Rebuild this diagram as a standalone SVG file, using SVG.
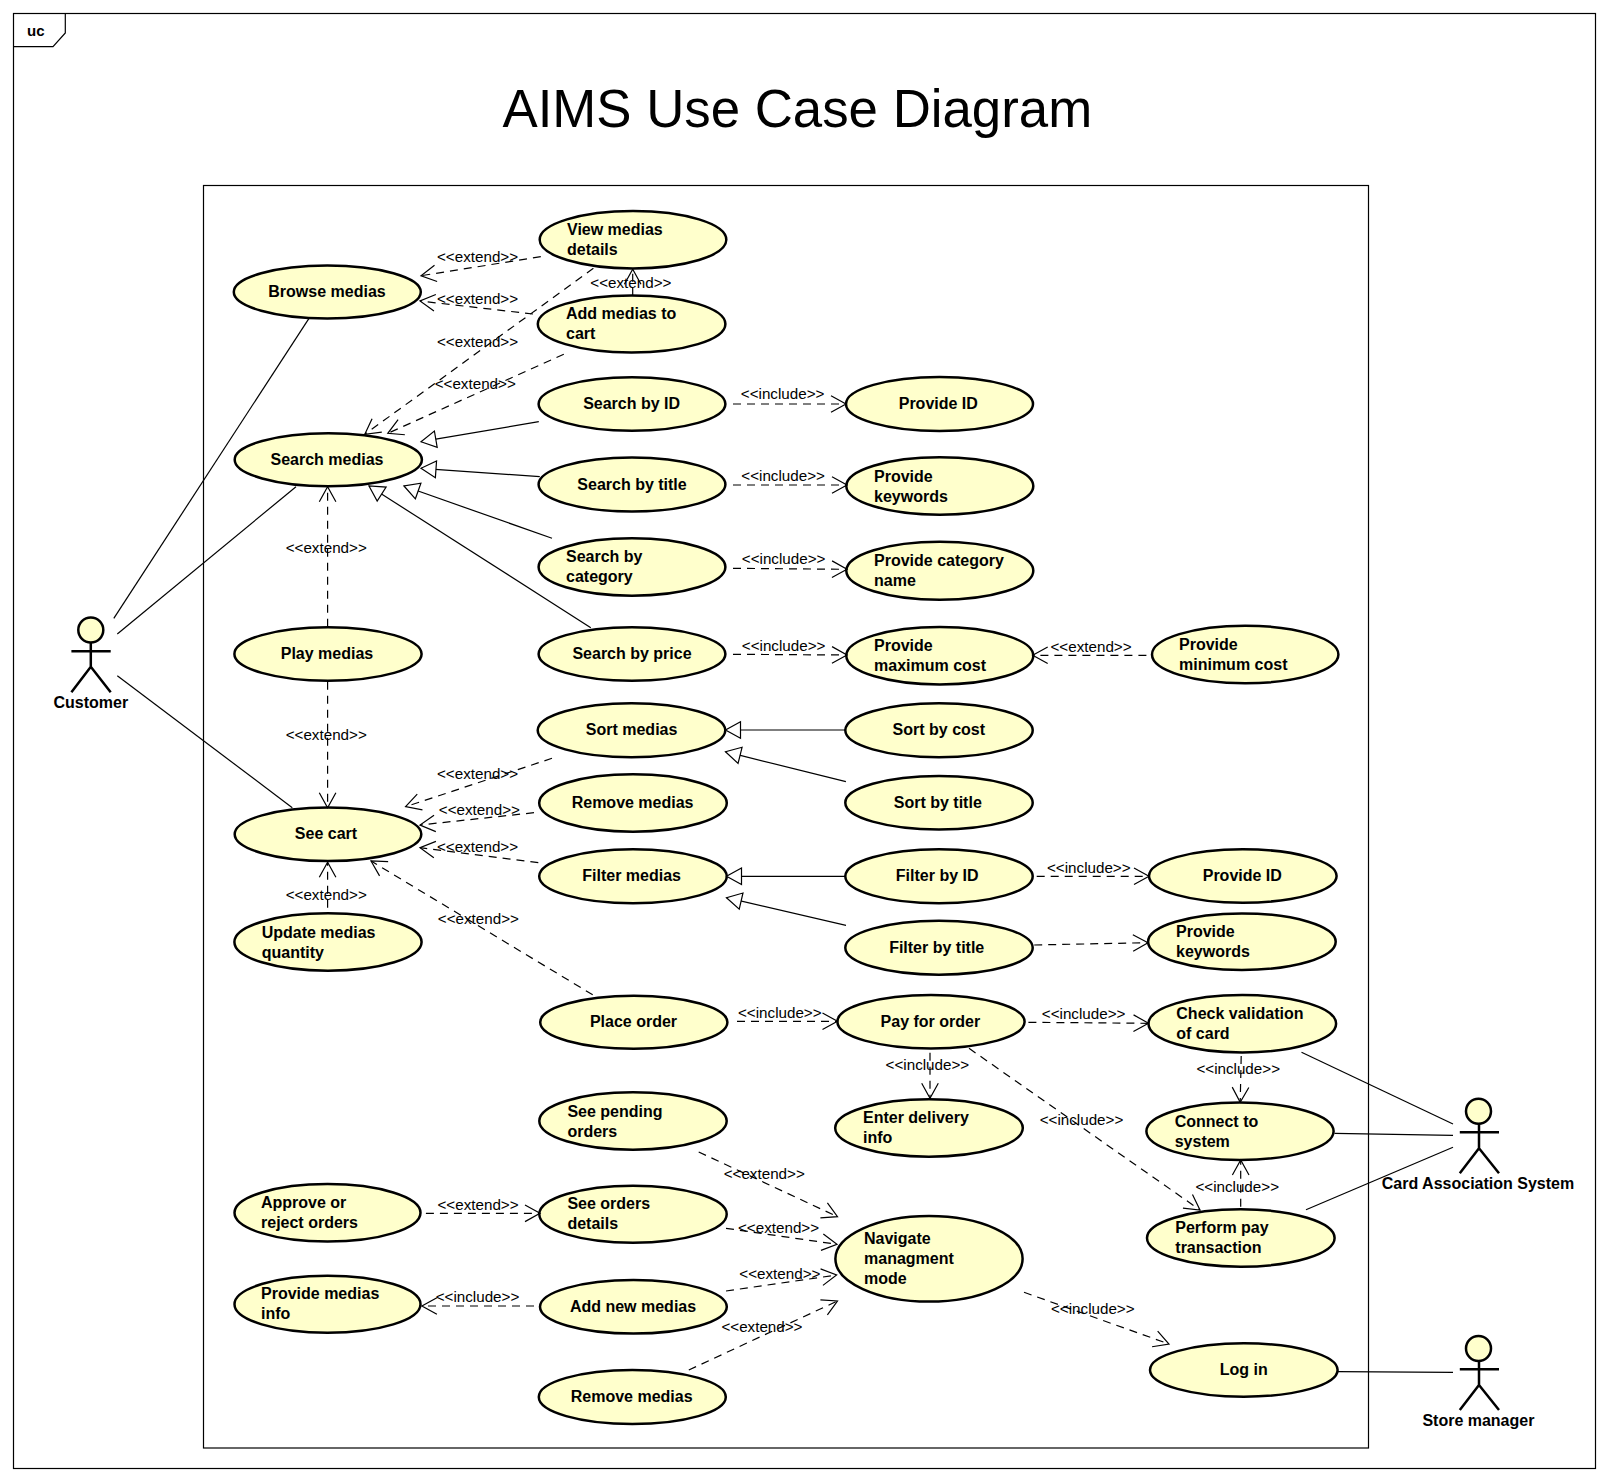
<svg xmlns="http://www.w3.org/2000/svg" width="1608" height="1481" viewBox="0 0 1608 1481">
<style>
text{font-family:"Liberation Sans",Arial,sans-serif;fill:#000}
.t{font-size:16px;font-weight:700;transform:translateY(-.7px)}
.c{text-anchor:middle}
.l{font-size:15.2px;transform:translateY(-.7px)}
.title{font-size:52.8px}
.u{fill:#ffffcc;stroke:#000;stroke-width:2.5}
.a{stroke:#000;stroke-width:2.5;fill:none}
.h{fill:#ffffcc;stroke:#000;stroke-width:2.5}
.as{stroke:#000;stroke-width:1.2;fill:none}
.g{stroke:#000;stroke-width:1.2;fill:none;marker-end:url(#tri)}
.d{stroke:#000;stroke-width:1.2;fill:none;stroke-dasharray:8 6;marker-end:url(#open)}
.f{fill:none;stroke:#000;stroke-width:1.2}
</style>
<defs>
<marker id="open" markerUnits="userSpaceOnUse" markerWidth="20" markerHeight="20" refX="16" refY="9.5" orient="auto" overflow="visible"><path d="M1,1.2 L16,9.5 L1,17.8" fill="none" stroke="#000" stroke-width="1.2"/></marker>
<marker id="tri" markerUnits="userSpaceOnUse" markerWidth="20" markerHeight="20" refX="16" refY="9.5" orient="auto" overflow="visible"><path d="M16,9.5 L1,1.2 L1,17.8 Z" fill="#fff" stroke="#000" stroke-width="1.2"/></marker>
</defs>
<rect width="1608" height="1481" fill="#fff"/>
<g id="frame">
<rect class="f" x="13.5" y="13.5" width="1582" height="1455"/>
<path class="f" d="M13.5,46.7 H53 L65.3,33 V13.5"/>
<text class="t" x="27" y="36.7" style="font-size:15px">uc</text>
<text class="title c" x="797.3" y="126.7">AIMS Use Case Diagram</text>
<rect class="f" x="203.5" y="185.5" width="1165" height="1262.5"/>
</g>
<g id="browse-medias"><ellipse class="u" cx="327.3" cy="292" rx="93.5" ry="26.5"/><text class="t c" x="327" y="298">Browse medias</text></g>
<g id="view-medias-details"><ellipse class="u" cx="633" cy="239.7" rx="93.3" ry="28.7"/><text class="t" x="567" y="236">View medias</text><text class="t" x="567" y="256">details</text></g>
<g id="add-medias-to-cart"><ellipse class="u" cx="631.6" cy="324" rx="93.8" ry="28.5"/><text class="t" x="566" y="320">Add medias to</text><text class="t" x="566" y="340">cart</text></g>
<g id="search-by-id"><ellipse class="u" cx="632" cy="404" rx="93.4" ry="26.7"/><text class="t c" x="631.6" y="410">Search by ID</text></g>
<g id="search-medias"><ellipse class="u" cx="328.3" cy="459.7" rx="93.6" ry="26.5"/><text class="t c" x="327" y="465.7">Search medias</text></g>
<g id="search-by-title"><ellipse class="u" cx="632" cy="484.5" rx="93.4" ry="27"/><text class="t c" x="632" y="490.7">Search by title</text></g>
<g id="search-by-category"><ellipse class="u" cx="632" cy="567" rx="93.4" ry="28.7"/><text class="t" x="566" y="562.7">Search by</text><text class="t" x="566" y="582.7">category</text></g>
<g id="play-medias"><ellipse class="u" cx="328" cy="654" rx="93.6" ry="26.7"/><text class="t c" x="327" y="660">Play medias</text></g>
<g id="search-by-price"><ellipse class="u" cx="632" cy="654" rx="93.4" ry="26.7"/><text class="t c" x="632" y="660">Search by price</text></g>
<g id="sort-medias"><ellipse class="u" cx="631.5" cy="730.3" rx="93.8" ry="27"/><text class="t c" x="631.6" y="735.7">Sort medias</text></g>
<g id="see-cart"><ellipse class="u" cx="328" cy="834.3" rx="93.3" ry="26.7"/><text class="t c" x="326" y="840">See cart</text></g>
<g id="remove-medias-1"><ellipse class="u" cx="633" cy="803" rx="93.8" ry="28.7"/><text class="t c" x="632.6" y="809">Remove medias</text></g>
<g id="filter-medias"><ellipse class="u" cx="633" cy="876.3" rx="93.8" ry="27"/><text class="t c" x="631.6" y="882">Filter medias</text></g>
<g id="update-medias-quantity"><ellipse class="u" cx="328" cy="942" rx="93.6" ry="28.7"/><text class="t" x="261.7" y="938.3">Update medias</text><text class="t" x="261.7" y="958.3">quantity</text></g>
<g id="provide-id-1"><ellipse class="u" cx="939.5" cy="404" rx="93.5" ry="27"/><text class="t c" x="938.3" y="410">Provide ID</text></g>
<g id="provide-keywords-1"><ellipse class="u" cx="939.8" cy="486" rx="93.5" ry="28.7"/><text class="t" x="874" y="482.7">Provide</text><text class="t" x="874" y="502.7">keywords</text></g>
<g id="provide-category-name"><ellipse class="u" cx="939.8" cy="570.8" rx="93.5" ry="29"/><text class="t" x="874" y="566.7">Provide category</text><text class="t" x="874" y="586.7">name</text></g>
<g id="provide-maximum-cost"><ellipse class="u" cx="939.8" cy="655.7" rx="93.5" ry="28.7"/><text class="t" x="874" y="651.7">Provide</text><text class="t" x="874" y="671.7">maximum cost</text></g>
<g id="provide-minimum-cost"><ellipse class="u" cx="1245.2" cy="654.5" rx="93.2" ry="28.8"/><text class="t" x="1179" y="651">Provide</text><text class="t" x="1179" y="671">minimum cost</text></g>
<g id="sort-by-cost"><ellipse class="u" cx="939" cy="730.3" rx="93.7" ry="27"/><text class="t c" x="938.8" y="735.7">Sort by cost</text></g>
<g id="sort-by-title"><ellipse class="u" cx="939" cy="802.7" rx="93.7" ry="26.7"/><text class="t c" x="937.8" y="809">Sort by title</text></g>
<g id="filter-by-id"><ellipse class="u" cx="939" cy="876.3" rx="93.7" ry="27"/><text class="t c" x="937.2" y="882">Filter by ID</text></g>
<g id="provide-id-2"><ellipse class="u" cx="1242.8" cy="876" rx="93.8" ry="26.7"/><text class="t c" x="1242.3" y="882">Provide ID</text></g>
<g id="filter-by-title"><ellipse class="u" cx="939" cy="947.7" rx="93.7" ry="27"/><text class="t c" x="936.7" y="954">Filter by title</text></g>
<g id="provide-keywords-2"><ellipse class="u" cx="1241.9" cy="941.7" rx="93.8" ry="28.3"/><text class="t" x="1176" y="937.3">Provide</text><text class="t" x="1176" y="958">keywords</text></g>
<g id="place-order"><ellipse class="u" cx="633.8" cy="1022.3" rx="93.6" ry="26.5"/><text class="t c" x="633.5" y="1027.7">Place order</text></g>
<g id="pay-for-order"><ellipse class="u" cx="931" cy="1021.7" rx="93.6" ry="26.7"/><text class="t c" x="930.4" y="1027.7">Pay for order</text></g>
<g id="check-validation-of-card"><ellipse class="u" cx="1242.3" cy="1023.7" rx="93.8" ry="28.7"/><text class="t" x="1176.3" y="1020">Check validation</text><text class="t" x="1176.3" y="1040">of card</text></g>
<g id="enter-delivery-info"><ellipse class="u" cx="929" cy="1128" rx="93.8" ry="28.7"/><text class="t" x="863" y="1124">Enter delivery</text><text class="t" x="863" y="1144">info</text></g>
<g id="connect-to-system"><ellipse class="u" cx="1240" cy="1131.3" rx="93.6" ry="28.7"/><text class="t" x="1174.7" y="1127.3">Connect to</text><text class="t" x="1174.7" y="1147.3">system</text></g>
<g id="perform-pay-transaction"><ellipse class="u" cx="1240.8" cy="1238" rx="93.8" ry="28.7"/><text class="t" x="1175.3" y="1234">Perform pay</text><text class="t" x="1175.3" y="1254">transaction</text></g>
<g id="navigate-managment-mode"><ellipse class="u" cx="929" cy="1258.8" rx="93.6" ry="42.8"/><text class="t" x="864" y="1245">Navigate</text><text class="t" x="864" y="1265">managment</text><text class="t" x="864" y="1285">mode</text></g>
<g id="log-in"><ellipse class="u" cx="1243.8" cy="1370" rx="93.8" ry="26.7"/><text class="t c" x="1243.8" y="1375.7">Log in</text></g>
<g id="see-pending-orders"><ellipse class="u" cx="633" cy="1121" rx="93.7" ry="28.7"/><text class="t" x="567.4" y="1117.3">See pending</text><text class="t" x="567.4" y="1137.3">orders</text></g>
<g id="see-orders-details"><ellipse class="u" cx="633" cy="1214.2" rx="93.7" ry="28.5"/><text class="t" x="567.4" y="1210">See orders</text><text class="t" x="567.4" y="1230">details</text></g>
<g id="approve-or-reject-orders"><ellipse class="u" cx="327.5" cy="1212.8" rx="93" ry="28.8"/><text class="t" x="261" y="1209">Approve or</text><text class="t" x="261" y="1229">reject orders</text></g>
<g id="provide-medias-info"><ellipse class="u" cx="327.5" cy="1304.2" rx="93" ry="28.5"/><text class="t" x="261" y="1300">Provide medias</text><text class="t" x="261" y="1320">info</text></g>
<g id="add-new-medias"><ellipse class="u" cx="633.4" cy="1306.8" rx="93.4" ry="26.8"/><text class="t c" x="633" y="1312.7">Add new medias</text></g>
<g id="remove-medias-2"><ellipse class="u" cx="632.3" cy="1397" rx="93.5" ry="27"/><text class="t c" x="631.7" y="1402.7">Remove medias</text></g>
<g id="customer"><ellipse class="h" cx="90.8" cy="630" rx="12.5" ry="12.5"/><path class="a" d="M90.8,642.5 V666.7 M71.4,651.3 H110.7 M71.4,692.3 L90.8,666.7 L110.7,692.3"/><text class="t c" x="90.8" y="709">Customer</text></g>
<g id="card-association-system"><ellipse class="h" cx="1478.5" cy="1111.3" rx="12.5" ry="12.5"/><path class="a" d="M1479,1123.8 V1148.3 M1459.8,1132.3 H1499 M1459.8,1173.3 L1479,1148.3 L1499,1173.3"/><text class="t c" x="1478" y="1189.3">Card Association System</text></g>
<g id="store-manager"><ellipse class="h" cx="1478.5" cy="1348.5" rx="12.5" ry="12.5"/><path class="a" d="M1479,1361 V1385 M1459.8,1369.3 H1499 M1459.8,1410 L1479,1385 L1499,1410"/><text class="t c" x="1478.4" y="1426.7">Store manager</text></g>
<g id="connectors">
<path class="as" d="M309,318.3 L113.8,618.3"/>
<path class="as" d="M296,486.7 L117.3,634"/>
<path class="as" d="M117.3,675.7 L292.3,807.7"/>
<path class="as" d="M1301.5,1052.3 L1453,1124"/>
<path class="as" d="M1334.5,1133.3 L1453,1135.3"/>
<path class="as" d="M1306,1209.7 L1453,1147.3"/>
<path class="as" d="M1338,1371.7 L1453,1372.3"/>
<path class="g" d="M538.8,421.7 L421,441.7"/>
<path class="g" d="M539.8,476.7 L421,468.3"/>
<path class="g" d="M552,538.3 L404,486"/>
<path class="g" d="M590.8,627.7 L369,486"/>
<path class="g" d="M845.4,730 L725.5,730"/>
<path class="g" d="M845.9,781.7 L725.5,751.7"/>
<path class="g" d="M845.4,876.3 L726.5,876.3"/>
<path class="g" d="M846,925.3 L726.5,897.7"/>
<path class="d" d="M540.8,256.7 L421,275.7"/>
<path class="d" d="M533,314 L420,301"/>
<path class="d" d="M593.4,268.3 L364.8,434.3"/>
<path class="d" d="M563.8,354.3 L387.8,433.3"/>
<path class="d" d="M632.7,295.7 L632.7,269.3"/>
<path class="d" d="M733,404 L846,404"/>
<path class="d" d="M733,485 L847,485"/>
<path class="d" d="M733,568.3 L847,569.3"/>
<path class="d" d="M733,654.3 L847,655"/>
<path class="d" d="M1146.4,655.3 L1032.7,655.3"/>
<path class="d" d="M327.6,626.7 L327.6,486.7"/>
<path class="d" d="M327.6,681.7 L327.6,807.7"/>
<path class="d" d="M552,758.3 L405.6,806.7"/>
<path class="d" d="M534,812.7 L420,825"/>
<path class="d" d="M538.3,862.7 L420,847.7"/>
<path class="d" d="M327.6,907.7 L327.6,862.3"/>
<path class="d" d="M592.7,994.8 L371,861"/>
<path class="d" d="M1036.7,876.3 L1149,876.3"/>
<path class="d" d="M1034.2,945 L1148,942.7"/>
<path class="d" d="M737,1021.3 L837.5,1021.3"/>
<path class="d" d="M1028.4,1022.3 L1148.5,1023.3"/>
<path class="d" d="M930,1052.7 L930,1098.3"/>
<path class="d" d="M969,1048.3 L1200,1210"/>
<path class="d" d="M1241.2,1056 L1240.2,1102.3"/>
<path class="d" d="M1240.7,1206.7 L1240.7,1160"/>
<path class="d" d="M1024,1292.3 L1169,1344"/>
<path class="d" d="M698.7,1152 L837.5,1216.7"/>
<path class="d" d="M726,1228.3 L837,1244.3"/>
<path class="d" d="M726,1291 L836.6,1275"/>
<path class="d" d="M688.8,1370 L837.5,1301"/>
<path class="d" d="M425.9,1213.3 L540,1213.3"/>
<path class="d" d="M534,1306 L421.9,1306"/>
<text class="l" x="437" y="262.7">&lt;&lt;extend&gt;&gt;</text>
<text class="l" x="437" y="305">&lt;&lt;extend&gt;&gt;</text>
<text class="l" x="437" y="347.7">&lt;&lt;extend&gt;&gt;</text>
<text class="l" x="434.7" y="389.3">&lt;&lt;extend&gt;&gt;</text>
<text class="l" x="590.3" y="288.7">&lt;&lt;extend&gt;&gt;</text>
<text class="l" x="740.8" y="400">&lt;&lt;include&gt;&gt;</text>
<text class="l" x="741.3" y="482">&lt;&lt;include&gt;&gt;</text>
<text class="l" x="741.8" y="565">&lt;&lt;include&gt;&gt;</text>
<text class="l" x="741.8" y="651.7">&lt;&lt;include&gt;&gt;</text>
<text class="l" x="1050.5" y="652.3">&lt;&lt;extend&gt;&gt;</text>
<text class="l" x="285.7" y="553.3">&lt;&lt;extend&gt;&gt;</text>
<text class="l" x="285.7" y="740.3">&lt;&lt;extend&gt;&gt;</text>
<text class="l" x="437" y="779.3">&lt;&lt;extend&gt;&gt;</text>
<text class="l" x="438.8" y="815.7">&lt;&lt;extend&gt;&gt;</text>
<text class="l" x="437" y="852.3">&lt;&lt;extend&gt;&gt;</text>
<text class="l" x="285.7" y="900.7">&lt;&lt;extend&gt;&gt;</text>
<text class="l" x="437.8" y="924.3">&lt;&lt;extend&gt;&gt;</text>
<text class="l" x="1047" y="873.3">&lt;&lt;include&gt;&gt;</text>
<text class="l" x="738" y="1018.3">&lt;&lt;include&gt;&gt;</text>
<text class="l" x="1041.8" y="1019.3">&lt;&lt;include&gt;&gt;</text>
<text class="l" x="885.6" y="1070.7">&lt;&lt;include&gt;&gt;</text>
<text class="l" x="1039.7" y="1125.3">&lt;&lt;include&gt;&gt;</text>
<text class="l" x="1196.4" y="1074.3">&lt;&lt;include&gt;&gt;</text>
<text class="l" x="1195.4" y="1192.3">&lt;&lt;include&gt;&gt;</text>
<text class="l" x="1051" y="1314.3">&lt;&lt;include&gt;&gt;</text>
<text class="l" x="723.7" y="1179.3">&lt;&lt;extend&gt;&gt;</text>
<text class="l" x="738" y="1233.7">&lt;&lt;extend&gt;&gt;</text>
<text class="l" x="739.3" y="1280">&lt;&lt;extend&gt;&gt;</text>
<text class="l" x="721.4" y="1332.3">&lt;&lt;extend&gt;&gt;</text>
<text class="l" x="437.5" y="1210.7">&lt;&lt;extend&gt;&gt;</text>
<text class="l" x="435.7" y="1302.7">&lt;&lt;include&gt;&gt;</text>
</g>
</svg>
